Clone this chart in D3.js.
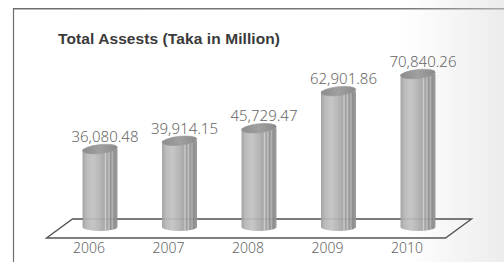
<!DOCTYPE html>
<html>
<head>
<meta charset="utf-8">
<script src="https://cdn.jsdelivr.net/npm/d3@7"></script>
<style>
  body { margin: 0; background: #fff; }
  svg { display: block; }
</style>
</head>
<body>
<div id="chart"></div>
<script>
// chart data
const years = ["2006", "2007", "2008", "2009", "2010"];
const assets = [36080.48, 39914.15, 45729.47, 62901.86, 70840.26];
const valueLabels = ["36,080.48", "39,914.15", "45,729.47", "62,901.86", "70,840.26"];
const title = "Total Assests (Taka in Million)";

const width = 504, height = 262;

const svg = d3.select("#chart")
    .append("svg")
    .attr("width", width)
    .attr("height", height);

const defs = svg.append("defs");

// background fade on the right
const bg = defs.append("linearGradient").attr("id", "bg").attr("x1", 0).attr("x2", 1);
bg.append("stop").attr("offset", 0).attr("stop-color", "#ffffff");
bg.append("stop").attr("offset", 0.8).attr("stop-color", "#ffffff");
bg.append("stop").attr("offset", 1).attr("stop-color", "#ececec");
svg.append("rect").attr("width", width).attr("height", height).attr("fill", "url(#bg)");

const frameGrad = defs.append("linearGradient").attr("id", "frameGrad").attr("x1", 0).attr("x2", 1);
frameGrad.append("stop").attr("offset", 0).attr("stop-color", "#6e6e6e");
frameGrad.append("stop").attr("offset", 0.8).attr("stop-color", "#7a7a7a");
frameGrad.append("stop").attr("offset", 1).attr("stop-color", "#a8a8a8");

// frame
svg.append("rect")
    .attr("x", 13).attr("y", 8)
    .attr("width", width - 13).attr("height", 1.5)
    .attr("fill", "url(#frameGrad)");
svg.append("line")
    .attr("x1", 13.5).attr("x2", 13.5)
    .attr("y1", 8).attr("y2", height)
    .attr("stroke", "#6e6e6e")
    .attr("stroke-width", 1.2);

// cylinder body shading
const body = defs.append("linearGradient").attr("id", "body").attr("x1", 0).attr("x2", 1);
[[0, "#a4a4a4"], [0.12, "#bcbcbc"], [0.3, "#c6c6c6"], [0.5, "#b6b6b6"], [0.62, "#a9a9a9"],
 [0.66, "#cfcfcf"], [0.7, "#9c9c9c"], [0.76, "#c2c2c2"], [0.8, "#939393"], [0.86, "#b2b2b2"],
 [0.9, "#8e8e8e"], [1, "#9c9c9c"]]
    .forEach(s => body.append("stop").attr("offset", s[0]).attr("stop-color", s[1]));

const topGrad = defs.append("linearGradient").attr("id", "topGrad").attr("x1", 0).attr("x2", 1);
topGrad.append("stop").attr("offset", 0).attr("stop-color", "#8c8c8c");
topGrad.append("stop").attr("offset", 0.5).attr("stop-color", "#a0a0a0");
topGrad.append("stop").attr("offset", 1).attr("stop-color", "#8a8a8a");

// scales
const x = d3.scaleBand()
    .domain(years)
    .range([38, 480])
    .padding(0.56);

const y = d3.scaleLinear()
    .domain([0, 80000])
    .range([227, 54.2]);

const bw = x.bandwidth();
const rx = bw / 2;
const ryTop = 4.5, ryBottom = 4;

// title
svg.append("text")
    .attr("x", 58)
    .attr("y", 44)
    .attr("font-family", "Liberation Sans, Arial, sans-serif")
    .attr("font-weight", "bold")
    .attr("font-size", 15.5)
    .attr("textLength", 222)
    .attr("lengthAdjust", "spacing")
    .attr("fill", "#3a3a3a")
    .text(title);

// floor
const fl = x(years[0]) - 36;
const fr = x(years[years.length - 1]) + bw + 10;
const floorFront = 238, dx = 26, dy = 19;
const floorPts = [[fl, floorFront], [fl + dx, floorFront - dy], [fr + dx, floorFront - dy], [fr, floorFront]];
svg.append("path")
    .attr("d", d3.line()(floorPts) + "Z")
    .attr("fill", "none")
    .attr("stroke", "#555")
    .attr("stroke-width", 1.4);

// cylinders
const bars = svg.selectAll("g.cyl")
    .data(years.map((yr, i) => ({year: yr, value: assets[i], label: valueLabels[i]})))
    .enter()
    .append("g")
    .attr("class", "cyl");

bars.append("path")
    .attr("d", d => {
        const x0 = x(d.year), x1 = x0 + bw;
        const yt = y(d.value), yb = y(0);
        return `M${x0},${yt} L${x0},${yb} A${rx},${ryBottom} 0 0 0 ${x1},${yb} L${x1},${yt} Z`;
    })
    .attr("fill", "url(#body)");

bars.append("ellipse")
    .attr("cx", d => x(d.year) + rx)
    .attr("cy", d => y(d.value))
    .attr("rx", rx)
    .attr("ry", ryTop)
    .attr("transform", d => `rotate(-6,${x(d.year) + rx},${y(d.value)})`)
    .attr("fill", "url(#topGrad)")
    .attr("stroke", "#9a9a9a")
    .attr("stroke-width", 0.5);

// faint back edge showing through the cylinders
svg.append("line")
    .attr("x1", fl + dx).attr("x2", fr + dx)
    .attr("y1", floorFront - dy).attr("y2", floorFront - dy)
    .attr("stroke", "#555")
    .attr("stroke-opacity", 0.18)
    .attr("stroke-width", 1.2);

// value labels
bars.append("text")
    .attr("x", d => x(d.year) + rx + 5)
    .attr("y", d => y(d.value) - 7)
    .attr("text-anchor", "middle")
    .attr("font-family", "Noto Sans, sans-serif")
    .attr("font-weight", 300)
    .attr("font-size", 15)
    .attr("fill", "#666")
    .text(d => d.label);

// year labels
bars.append("text")
    .attr("x", d => x(d.year) + rx - 11)
    .attr("y", 253)
    .attr("text-anchor", "middle")
    .attr("font-family", "Noto Sans, sans-serif")
    .attr("font-weight", 300)
    .attr("font-size", 14)
    .attr("fill", "#666")
    .text(d => d.year);
</script>
</body>
</html>
